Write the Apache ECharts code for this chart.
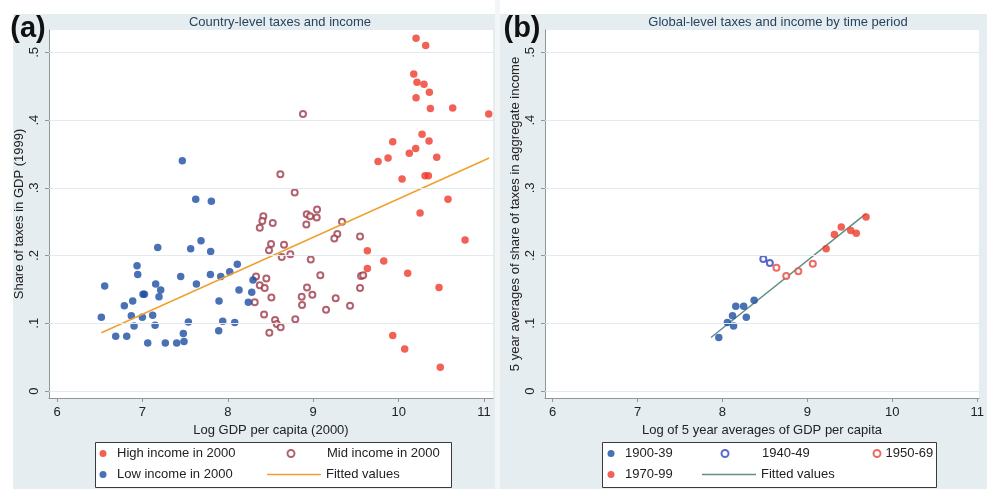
<!DOCTYPE html>
<html>
<head>
<meta charset="utf-8">
<script src="https://cdn.jsdelivr.net/npm/echarts@6/dist/echarts.min.js"></script>
<style>
  html, body { margin: 0; padding: 0; background: #fff; }
  #chart { width: 987px; height: 489px; }
</style>
</head>
<body>
<div id="chart"></div>
<script>
// Axis tick values shared by both panels
const xTicks = [6, 7, 8, 9, 10, 11];
const yTicks = [0, 0.1, 0.2, 0.3, 0.4, 0.5];

// Panel (a): country-level log GDP per capita (2000) vs. tax share of GDP (1999)
const highIncome = [
  [10.204, 0.521], [10.317, 0.510], [10.177, 0.468], [10.215, 0.456], [10.297, 0.453],
  [10.360, 0.441], [10.204, 0.433], [10.372, 0.417], [10.633, 0.418], [11.055, 0.409],
  [10.274, 0.379], [10.356, 0.369], [9.931, 0.368], [10.200, 0.358], [10.125, 0.351],
  [10.446, 0.345], [9.876, 0.344], [9.759, 0.339], [10.040, 0.313], [10.309, 0.318],
  [10.348, 0.318], [10.578, 0.283], [10.251, 0.263], [10.778, 0.223], [9.634, 0.207],
  [9.826, 0.192], [9.634, 0.181], [10.106, 0.174], [10.473, 0.153], [9.931, 0.082],
  [10.071, 0.062], [10.488, 0.035]
];
const midIncome = [
  [8.880, 0.409], [8.615, 0.320], [8.783, 0.293], [8.416, 0.258], [8.404, 0.251],
  [8.374, 0.241], [8.526, 0.248], [8.506, 0.217], [8.482, 0.208], [8.330, 0.169],
  [8.451, 0.166], [8.374, 0.156], [8.432, 0.152], [8.510, 0.138], [8.315, 0.131],
  [8.424, 0.113], [8.553, 0.105], [8.573, 0.099], [8.486, 0.086], [8.924, 0.261],
  [8.963, 0.258], [9.045, 0.268], [9.041, 0.256], [8.919, 0.246], [9.337, 0.250],
  [9.282, 0.232], [9.247, 0.225], [9.548, 0.228], [8.658, 0.216], [8.631, 0.198],
  [8.732, 0.202], [8.971, 0.194], [8.619, 0.094], [8.790, 0.106], [8.865, 0.139],
  [8.869, 0.127], [8.927, 0.153], [8.990, 0.142], [9.083, 0.171], [9.150, 0.120],
  [9.263, 0.137], [9.431, 0.126], [9.548, 0.152], [9.560, 0.170], [9.585, 0.171]
];
const lowIncome = [
  [7.467, 0.340], [7.624, 0.283], [7.807, 0.280], [7.686, 0.222], [7.179, 0.212],
  [7.565, 0.210], [7.799, 0.206], [8.111, 0.187], [8.022, 0.176], [6.937, 0.185],
  [6.945, 0.172], [7.448, 0.169], [7.796, 0.172], [7.917, 0.169], [6.558, 0.155],
  [7.155, 0.158], [7.214, 0.149], [7.632, 0.158], [8.131, 0.149], [8.295, 0.164],
  [8.280, 0.146], [7.007, 0.143], [7.023, 0.143], [7.194, 0.139], [6.886, 0.133],
  [6.788, 0.126], [7.897, 0.133], [8.240, 0.131], [6.519, 0.109], [6.870, 0.111],
  [6.999, 0.109], [7.120, 0.112], [6.902, 0.096], [7.148, 0.097], [7.538, 0.102],
  [7.940, 0.103], [8.081, 0.101], [6.687, 0.081], [6.816, 0.081], [7.479, 0.085],
  [7.893, 0.089], [7.062, 0.071], [7.268, 0.071], [7.401, 0.071], [7.487, 0.073]
];
const fittedA = [[6.52, 0.086], [11.06, 0.344]];

// Panel (b): 5-year averages of global log GDP per capita vs. tax share, by period
const period1900 = [
  [7.957, 0.079], [8.058, 0.101], [8.131, 0.096], [8.119, 0.111],
  [8.157, 0.125], [8.250, 0.125], [8.281, 0.109], [8.373, 0.134]
];
const period1940 = [[8.481, 0.195], [8.558, 0.189]];
const period1950 = [[8.636, 0.182], [8.751, 0.170], [8.894, 0.177], [9.064, 0.188]];
const period1970 = [
  [9.221, 0.210], [9.318, 0.231], [9.399, 0.242],
  [9.510, 0.237], [9.576, 0.233], [9.691, 0.257]
];
const fittedB = [[7.865, 0.079], [9.691, 0.262]];

const FONT = 'Liberation Sans, Arial, Helvetica, sans-serif';
const AXIS_COLOR = '#8f969a';
const TEXT_COLOR = '#222';

function yLabel(v) {
  const r = Math.round(v * 10);
  return r === 0 ? '0' : '.' + r;
}

function makeXAxis(gridIndex, min, max, name) {
  return {
    type: 'value', gridIndex: gridIndex, min: min, max: max,
    name: name, nameLocation: 'middle', nameGap: 22,
    nameTextStyle: { fontSize: 13, color: TEXT_COLOR, fontFamily: FONT },
    axisLine: { show: true, onZero: false, lineStyle: { color: AXIS_COLOR, width: 1 } },
    axisTick: { show: true, length: 4, customValues: xTicks, lineStyle: { color: AXIS_COLOR } },
    axisLabel: { customValues: xTicks, margin: 8, fontSize: 13, color: TEXT_COLOR, fontFamily: FONT },
    splitLine: { show: false }
  };
}

function makeYAxis(gridIndex, name) {
  return {
    type: 'value', gridIndex: gridIndex, min: -0.0103, max: 0.533,
    name: name, nameLocation: 'middle', nameGap: 23,
    nameTextStyle: { fontSize: 13, color: TEXT_COLOR, fontFamily: FONT },
    axisLine: { show: true, onZero: false, lineStyle: { color: AXIS_COLOR, width: 1 } },
    axisTick: { show: true, length: 4, customValues: yTicks, lineStyle: { color: AXIS_COLOR } },
    axisLabel: {
      customValues: yTicks, rotate: 90, margin: 8, fontSize: 13,
      color: TEXT_COLOR, fontFamily: FONT, formatter: yLabel
    },
    splitLine: { show: false }
  };
}

// Horizontal reference lines at every y tick, drawn through the axis scale
function gridLines(xi, yi) {
  return {
    type: 'scatter', name: '_grid' + xi, xAxisIndex: xi, yAxisIndex: yi, data: [],
    silent: true, z: 1,
    markLine: {
      silent: true, symbol: 'none', label: { show: false },
      lineStyle: { color: '#e3eaed', width: 1, type: 'solid' },
      emphasis: { disabled: true },
      data: yTicks.map(function (v) { return { yAxis: v }; })
    }
  };
}

// One legend entry for a marker series: square icon box centred on markerX,
// label pushed to textX
function legendMarker(name, markerX, textX, top) {
  const left = markerX - 3.5;
  const pad = Math.max(0, textX - (left + 7 + 5));
  return {
    data: [name], left: left, top: top, padding: 0,
    itemWidth: 7, itemHeight: 7, selectedMode: false, orient: 'horizontal',
    textStyle: { fontSize: 13, color: TEXT_COLOR, fontFamily: FONT, padding: [0, 0, 0, pad] }
  };
}

// One legend entry for a fitted line: plain stroke, no marker
function legendLine(name, left, top, w) {
  return {
    data: [{ name: name, icon: 'rect' }], left: left, top: top, padding: 0,
    itemWidth: w, itemHeight: 1.5, selectedMode: false, orient: 'horizontal',
    textStyle: { fontSize: 13, color: TEXT_COLOR, fontFamily: FONT }
  };
}

const option = {
  backgroundColor: '#e5edf0',
  animation: false,
  grid: [
    { left: 49, top: 30, width: 444, height: 368, show: true, backgroundColor: '#ffffff', borderWidth: 0 },
    { left: 545, top: 30, width: 442, height: 368, show: true, backgroundColor: '#ffffff', borderWidth: 0 }
  ],
  xAxis: [
    makeXAxis(0, 5.906, 11.105, 'Log GDP per capita (2000)'),
    makeXAxis(1, 5.911, 11.021, 'Log of 5 year averages of GDP per capita')
  ],
  yAxis: [
    makeYAxis(0, 'Share of taxes in GDP (1999)'),
    makeYAxis(1, '5 year averages of share of taxes in aggregate income')
  ],
  legend: [
    legendMarker('High income in 2000', 103, 117, 447),
    legendMarker('Low income in 2000', 103, 117, 468),
    legendMarker('Mid income in 2000', 290, 326, 447),
    legendLine('Fitted values', 267, 468, 54),
    legendMarker('1900-39', 611, 625, 447),
    legendMarker('1970-99', 611, 625, 468),
    legendMarker('1940-49', 724, 761, 447),
    legendLine('Fitted values ', 702, 468, 54),
    legendMarker('1950-69', 876, 882, 447)
  ],
  graphic: [
    // white margins of the figure and the gap between the panels
    { type: 'rect', shape: { x: 0, y: 0, width: 987, height: 14 }, style: { fill: '#ffffff' }, silent: true },
    { type: 'rect', shape: { x: 0, y: 0, width: 13, height: 489 }, style: { fill: '#ffffff' }, silent: true },
    { type: 'rect', shape: { x: 495, y: 0, width: 5, height: 489 }, style: { fill: '#f3f6f7' }, silent: true },
    // legend frames
    { type: 'rect', z: -1, shape: { x: 95.5, y: 442.5, width: 356, height: 45 },
      style: { fill: '#ffffff', stroke: '#3a3a3a', lineWidth: 1 }, silent: true },
    { type: 'rect', z: -1, shape: { x: 602.5, y: 442.5, width: 334, height: 45 },
      style: { fill: '#ffffff', stroke: '#3a3a3a', lineWidth: 1 }, silent: true },
    // panel titles
    { type: 'text', x: 280, y: 22, style: { text: 'Country-level taxes and income', fill: '#27445f',
      font: '13px ' + FONT, textAlign: 'center', textVerticalAlign: 'middle' }, silent: true },
    { type: 'text', x: 778, y: 22, style: { text: 'Global-level taxes and income by time period', fill: '#27445f',
      font: '13px ' + FONT, textAlign: 'center', textVerticalAlign: 'middle' }, silent: true },
    // panel letters
    { type: 'text', x: 28, y: 29, z: 10, style: { text: '(a)', fill: '#111',
      font: 'bold 29px ' + FONT, textAlign: 'center', textVerticalAlign: 'middle' }, silent: true },
    { type: 'text', x: 522, y: 29, z: 10, style: { text: '(b)', fill: '#111',
      font: 'bold 29px ' + FONT, textAlign: 'center', textVerticalAlign: 'middle' }, silent: true }
  ],
  series: [
    gridLines(0, 0),
    gridLines(1, 1),
    { type: 'scatter', name: 'High income in 2000', xAxisIndex: 0, yAxisIndex: 0, data: highIncome,
      symbol: 'circle', symbolSize: 7.5, itemStyle: { color: '#ef3a2b' }, z: 3 },
    { type: 'scatter', name: 'Mid income in 2000', xAxisIndex: 0, yAxisIndex: 0, data: midIncome,
      symbol: 'emptyCircle', symbolSize: 6, itemStyle: { color: '#9e3b4b', borderWidth: 1.4 }, z: 3 },
    { type: 'scatter', name: 'Low income in 2000', xAxisIndex: 0, yAxisIndex: 0, data: lowIncome,
      symbol: 'circle', symbolSize: 7.5, itemStyle: { color: '#1d4ea2' }, z: 3 },
    { type: 'line', name: 'Fitted values', xAxisIndex: 0, yAxisIndex: 0, data: fittedA,
      symbol: 'none', lineStyle: { color: '#f0a030', width: 1.5 }, itemStyle: { color: '#f0a030' }, z: 4 },

    { type: 'scatter', name: '1900-39', xAxisIndex: 1, yAxisIndex: 1, data: period1900,
      symbol: 'circle', symbolSize: 7.5, itemStyle: { color: '#1d4ea2' }, z: 3 },
    { type: 'scatter', name: '1940-49', xAxisIndex: 1, yAxisIndex: 1, data: period1940,
      symbol: 'emptyCircle', symbolSize: 6, itemStyle: { color: '#2f44c0', borderWidth: 1.4 }, z: 3 },
    { type: 'scatter', name: '1950-69', xAxisIndex: 1, yAxisIndex: 1, data: period1950,
      symbol: 'emptyCircle', symbolSize: 6, itemStyle: { color: '#e8463c', borderWidth: 1.4 }, z: 3 },
    { type: 'scatter', name: '1970-99', xAxisIndex: 1, yAxisIndex: 1, data: period1970,
      symbol: 'circle', symbolSize: 7.5, itemStyle: { color: '#ef3a2b' }, z: 3 },
    { type: 'line', name: 'Fitted values ', xAxisIndex: 1, yAxisIndex: 1, data: fittedB,
      symbol: 'none', lineStyle: { color: '#5f8f85', width: 1.5 }, itemStyle: { color: '#5f8f85' }, z: 2 }
  ]
};

const chart = echarts.init(document.getElementById('chart'), null, { renderer: 'canvas' });
chart.setOption(option);
</script>
</body>
</html>
